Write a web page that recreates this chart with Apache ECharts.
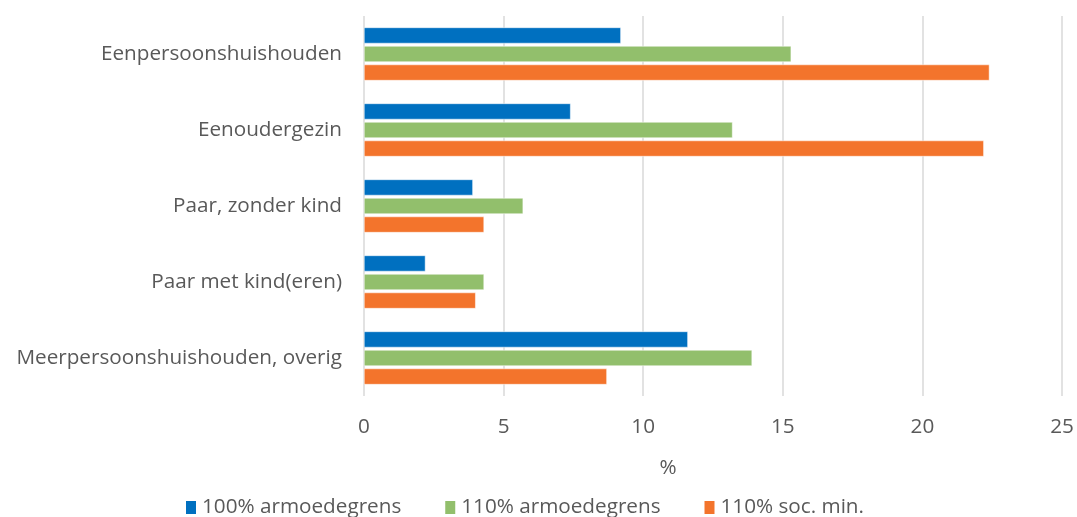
<!DOCTYPE html>
<html>
<head>
<meta charset="utf-8">
<script src="https://cdn.jsdelivr.net/npm/echarts@6/dist/echarts.min.js"></script>
<style>
  html, body { margin: 0; padding: 0; background: #fff; }
  #chart { width: 1077px; height: 517px; }
</style>
</head>
<body>
<div id="chart"></div>
<script>
  // categorieën (van boven naar beneden)
  const categories = [
    'Eenpersoonshuishouden',
    'Eenoudergezin',
    'Paar, zonder kind',
    'Paar met kind(eren)',
    'Meerpersoonshuishouden, overig'
  ];
  const seriesNames = ['100% armoedegrens', '110% armoedegrens', '110% soc. min.'];
  const armoede100 = [9.2, 7.4, 3.9, 2.2, 11.6];
  const armoede110 = [15.3, 13.2, 5.7, 4.3, 13.9];
  const socMin110 = [22.4, 22.2, 4.3, 4.0, 8.7];
  const xTicks = [0, 5, 10, 15, 20, 25];

  const colors = ['#0070c0', '#92bf6c', '#f3742c'];
  const font = 'Open Sans';
  const fontSize = 20.7;
  const textColor = '#595959';

  const chart = echarts.init(document.getElementById('chart'));

  const barSeries = [armoede100, armoede110, socMin110].map(function (data, i) {
    return {
      name: seriesNames[i],
      type: 'bar',
      data: data,
      barWidth: 16,
      barGap: '16%',
      itemStyle: { color: colors[i], borderColor: '#fff', borderWidth: 0.5 },
      emphasis: { disabled: true }
    };
  });

  chart.setOption({
    animation: false,
    textStyle: { fontFamily: font },
    grid: { left: 364, right: 15, top: 16, bottom: 121, containLabel: false },
    legend: {
      bottom: -6,
      left: 179,
      itemWidth: 12,
      itemHeight: 15,
      itemGap: 42,
      icon: 'rect',
      textStyle: { fontFamily: font, fontSize: fontSize, color: textColor },
      data: seriesNames
    },
    xAxis: {
      type: 'value',
      min: xTicks[0],
      max: xTicks[xTicks.length - 1],
      interval: 5,
      name: '%',
      nameLocation: 'middle',
      nameGap: 62,
      // het %-teken staat iets links van het midden van het plotvlak
      nameTextStyle: { fontFamily: font, fontSize: fontSize, color: textColor, padding: [0, 90, 0, 0] },
      axisLine: { show: false },
      axisTick: { show: false },
      axisLabel: { margin: 21, fontFamily: font, fontSize: fontSize, color: textColor },
      splitLine: { lineStyle: { color: '#d9d9d9', width: 1.5 } }
    },
    yAxis: {
      type: 'category',
      inverse: true,
      data: categories,
      axisLine: { show: false },
      axisTick: { show: false },
      axisLabel: { margin: 22, fontFamily: font, fontSize: fontSize, color: textColor }
    },
    series: barSeries
  });
</script>
</body>
</html>
